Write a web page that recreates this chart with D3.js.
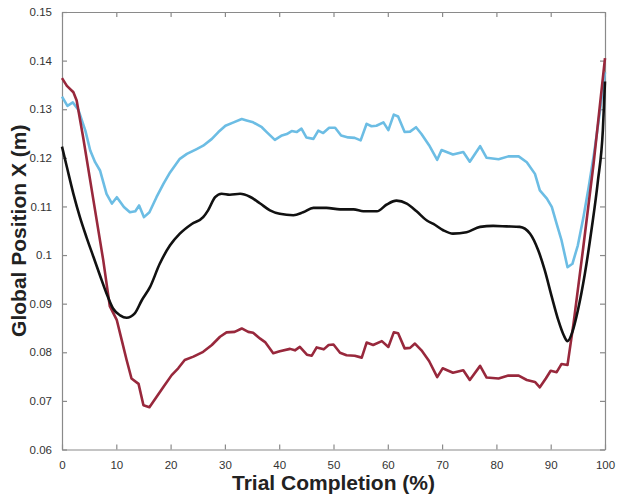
<!DOCTYPE html>
<html>
<head>
<meta charset="utf-8">
<script src="https://cdn.jsdelivr.net/npm/d3@7"></script>
<style>
  body { margin: 0; background: #fff; }
  svg { display: block; font-family: "Liberation Sans", Arial, sans-serif; }
</style>
</head>
<body>
<svg width="618" height="498"></svg>
<script>
// upper band (light blue)
const upperT = [0, 1, 2, 3, 4.3, 5.2, 6.1, 7, 8.2, 9.2, 10.1, 11.4, 12.5, 13.5, 14.2, 15.1, 16.1, 17.4, 18.7, 19.9,
  21.7, 23, 24.8, 26, 27.6, 28.8, 30.1, 31.6, 33.1, 34, 35.2, 36.8, 37.7, 39.2, 40.5, 41.4, 42.3, 43.2, 44.1, 45,
  46.3, 47.2, 48.1, 49.2, 50.3, 51.4, 52.7, 53.9, 55, 56.1, 57, 57.9, 59.2, 60.1, 61.1, 61.9, 63.1, 64.1, 65.2, 66.2,
  67.6, 69.1, 69.9, 72, 73.9, 75.1, 77, 78.2, 80.4, 82.2, 84.1, 85.6, 87.1, 88, 89.3, 90.2, 91.1, 92, 93.1, 94,
  95, 96, 97, 98, 99, 100];
const upperV = [0.1326, 0.1307, 0.1314, 0.1299, 0.1256, 0.1215, 0.1191, 0.1174, 0.1126, 0.1106, 0.1119, 0.1099, 0.1088, 0.1090, 0.1102, 0.1078, 0.1088, 0.1119, 0.1147, 0.1170,
  0.1198, 0.1208, 0.1218, 0.1225, 0.1239, 0.1253, 0.1266, 0.1273, 0.1280, 0.1277, 0.1273, 0.1263, 0.1253, 0.1237, 0.1246, 0.1249, 0.1255, 0.1253, 0.1260, 0.1242,
  0.1239, 0.1256, 0.1251, 0.1262, 0.1262, 0.1246, 0.1242, 0.1241, 0.1236, 0.1270, 0.1265, 0.1266, 0.1273, 0.1257, 0.1289, 0.1285, 0.1253, 0.1254, 0.1263, 0.1249,
  0.1226, 0.1196, 0.1216, 0.1207, 0.1212, 0.1192, 0.1224, 0.1200, 0.1197, 0.1203, 0.1203, 0.1191, 0.1167, 0.1133, 0.1116, 0.1099, 0.1064, 0.1030, 0.0975, 0.0982,
  0.1020, 0.1076, 0.1140, 0.1210, 0.1290, 0.1376];

// lower band (dark red)
const lowerT = [0, 0.9, 2.1, 2.7, 3.9, 5.8, 7.6, 8.8, 10.1, 11, 11.9, 12.8, 14.1, 15, 16.1, 17.4, 18.7, 20.2, 21.4, 22.6,
  24.2, 26, 27.6, 29.1, 30.3, 31.8, 33.1, 34.3, 35.2, 36.5, 37.4, 38.9, 40.1, 42, 42.9, 43.8, 45.1, 46, 46.9, 48.2,
  49.1, 50, 51.2, 52.4, 53.9, 55.2, 56.1, 57.3, 58.9, 60.1, 61.1, 61.9, 63.1, 64.1, 65, 66.2, 67.6, 69.1, 70.1, 72,
  73.9, 75.1, 77, 78.2, 80.4, 82.2, 84.1, 85.6, 87.1, 88, 89.1, 90, 91.1, 92, 93.1, 94.2, 96, 97.9, 100];
const lowerV = [0.1364, 0.1348, 0.1335, 0.1318, 0.1242, 0.1112, 0.0989, 0.0895, 0.0866, 0.0825, 0.0784, 0.0746, 0.0735, 0.0691, 0.0687, 0.0708, 0.0729, 0.0753, 0.0767, 0.0784,
  0.0791, 0.0801, 0.0815, 0.0832, 0.0841, 0.0842, 0.0849, 0.0842, 0.0840, 0.0828, 0.0821, 0.0798, 0.0802, 0.0807, 0.0804, 0.0811, 0.0795, 0.0793, 0.0810, 0.0806,
  0.0815, 0.0816, 0.0799, 0.0794, 0.0793, 0.0789, 0.0820, 0.0815, 0.0823, 0.0811, 0.0841, 0.0839, 0.0808, 0.0809, 0.0818, 0.0804, 0.0782, 0.0749, 0.0767, 0.0758,
  0.0763, 0.0743, 0.0772, 0.0748, 0.0746, 0.0752, 0.0752, 0.0743, 0.0739, 0.0728, 0.0746, 0.0762, 0.0759, 0.0776, 0.0774, 0.0859, 0.1016, 0.1188, 0.1405];

// mean (black)
const meanT = [0, 0.9, 2.1, 3.3, 4.5, 5.8, 7, 8.2, 9.4, 10.7, 11.9, 13.4, 14.7, 16.2, 18, 19.9, 21.7, 23.9, 26, 26.9,
  28.2, 29.4, 30.9, 32.8, 34.6, 36.5, 38.3, 40.1, 42.6, 44.4, 46.3, 48.7, 51.2, 53.7, 55.5, 58, 59.8, 61.6, 63.5, 65.3,
  67.2, 68.4, 70.2, 72, 74.5, 77, 79.4, 81.9, 84.3, 86.2, 87.7, 88.9, 90.2, 91.4, 92.4, 93.1, 94, 95, 96.3, 97.5,
  98.7, 99.6, 100];
const meanV = [0.1223, 0.1181, 0.1126, 0.1078, 0.1037, 0.0996, 0.0958, 0.0921, 0.0890, 0.0876, 0.0871, 0.0880, 0.0907, 0.0934, 0.0982, 0.1020, 0.1044, 0.1064, 0.1078, 0.1092,
  0.1119, 0.1126, 0.1124, 0.1126, 0.1120, 0.1106, 0.1092, 0.1085, 0.1082, 0.1088, 0.1097, 0.1097, 0.1094, 0.1094, 0.1090, 0.1090, 0.1104, 0.1112, 0.1106, 0.1090,
  0.1071, 0.1064, 0.1051, 0.1044, 0.1047, 0.1058, 0.1060, 0.1059, 0.1058, 0.1044, 0.1010, 0.0969, 0.0914, 0.0866, 0.0835, 0.0823, 0.0842, 0.0886, 0.0962, 0.1051,
  0.1153, 0.1256, 0.1357];

const xTicks = [0, 10, 20, 30, 40, 50, 60, 70, 80, 90, 100];
const yTicks = [0.06, 0.07, 0.08, 0.09, 0.1, 0.11, 0.12, 0.13, 0.14, 0.15];

const width = 618;
const height = 498;
const margin = { top: 12, right: 13, bottom: 48.5, left: 62 };
const innerWidth = width - margin.left - margin.right;
const innerHeight = height - margin.top - margin.bottom;

const x = d3.scaleLinear().domain([0, 100]).range([0, innerWidth]);
const y = d3.scaleLinear().domain([0.06, 0.15]).range([innerHeight, 0]);

const svg = d3.select('svg');
const plot = svg.append('g')
  .attr('transform', `translate(${margin.left},${margin.top})`);

const axisColor = '#8a8a8a';
const fmt = d => String(+d.toFixed(2));

// bottom axis with labels, ticks pointing inward
const axisB = plot.append('g')
  .attr('transform', `translate(0,${innerHeight})`)
  .call(d3.axisBottom(x).tickValues(xTicks).tickSize(-5).tickPadding(11).tickSizeOuter(0));
const axisL = plot.append('g')
  .call(d3.axisLeft(y).tickValues(yTicks).tickFormat(fmt).tickSize(-5).tickPadding(10).tickSizeOuter(0));
// top and right: ticks only
const axisT = plot.append('g')
  .call(d3.axisTop(x).tickValues(xTicks).tickSize(-5).tickSizeOuter(0));
const axisR = plot.append('g')
  .attr('transform', `translate(${innerWidth},0)`)
  .call(d3.axisRight(y).tickValues(yTicks).tickSize(-5).tickSizeOuter(0));
axisT.selectAll('text').remove();
axisR.selectAll('text').remove();

[axisB, axisL, axisT, axisR].forEach(g => {
  g.selectAll('path, line').attr('stroke', axisColor).attr('stroke-width', 1.2);
  g.selectAll('text').attr('fill', '#333').style('font-size', '11.5px');
});

// series
const series = [
  { t: upperT, v: upperV, color: '#6cbde4', curve: d3.curveLinear },
  { t: lowerT, v: lowerV, color: '#98283c', curve: d3.curveLinear },
  { t: meanT, v: meanV, color: '#111', curve: d3.curveMonotoneX }
];

series.forEach(s => {
  const pts = s.t.map((t, i) => [t, s.v[i]]);
  plot.append('path')
    .datum(pts)
    .attr('fill', 'none')
    .attr('stroke', s.color)
    .attr('stroke-width', 2.6)
    .attr('stroke-linejoin', 'round')
    .attr('d', d3.line().x(d => x(d[0])).y(d => y(d[1])).curve(s.curve));
});

// axis titles
svg.append('text')
  .attr('x', margin.left + innerWidth / 2)
  .attr('y', 490)
  .attr('text-anchor', 'middle')
  .style('font-size', '21px')
  .style('font-weight', 'bold')
  .attr('fill', '#222')
  .text('Trial Completion (%)');

svg.append('text')
  .attr('transform', `translate(26,${margin.top + innerHeight / 2}) rotate(-90)`)
  .attr('text-anchor', 'middle')
  .style('font-size', '21px')
  .style('font-weight', 'bold')
  .attr('fill', '#222')
  .text('Global Position X (m)');
</script>
</body>
</html>
